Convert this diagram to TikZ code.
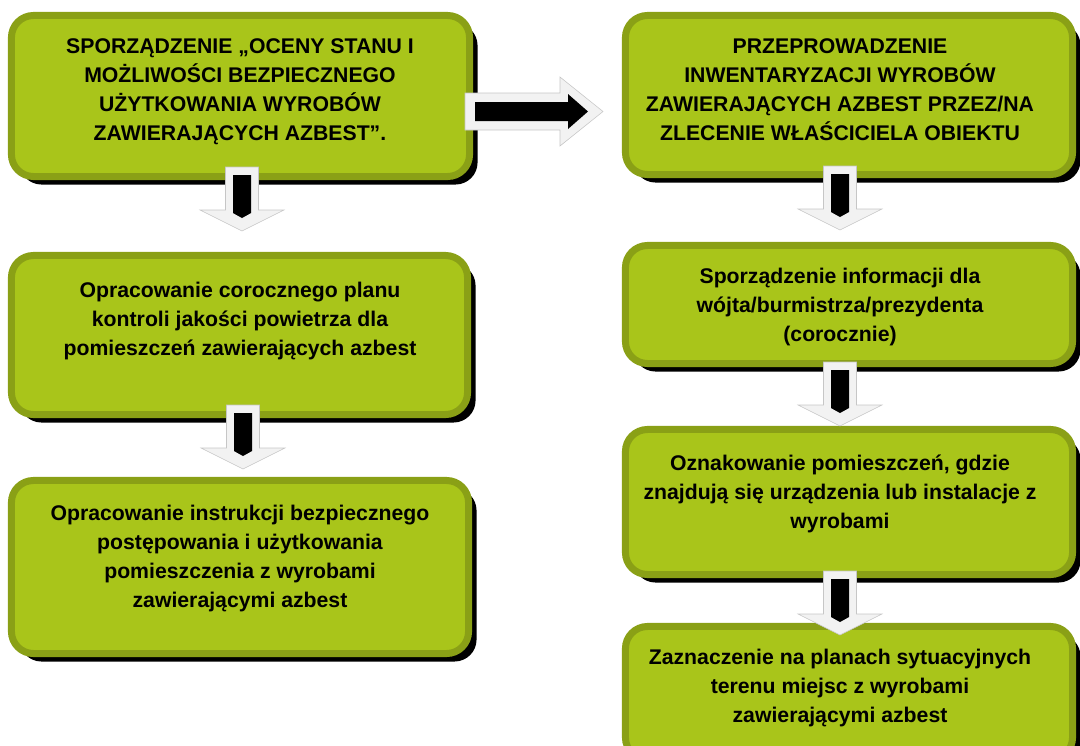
\documentclass[tikz,border=0pt]{standalone}
\usepackage{fontspec}
\setmainfont{Liberation Sans}
\usepackage{tikz}
\usetikzlibrary{shadows}

\definecolor{boxfill}{RGB}{169,197,26}
\definecolor{boxrim}{RGB}{138,160,22}
\definecolor{arrowbody}{RGB}{242,242,242}

\tikzset{
  stepbox/.style={draw=boxrim,fill=boxfill,line width=0.175cm,rounded corners=0.55cm,
    drop shadow={shadow xshift=0.2cm,shadow yshift=-0.2cm,fill=black,opacity=1}},
  boxtext/.style={anchor=north,align=center,inner sep=0pt,
    font=\bfseries\fontsize{15.1}{20.6}\selectfont},
  fatbody/.style={fill=arrowbody,draw=gray!45,line width=0.4pt}
}

% down block arrow, #1 = top centre
\newcommand{\fatdown}[1]{%
  \begin{scope}[shift={#1}]
    \draw[fatbody] (-16.5,0) -- (16.5,0) -- (16.5,43) -- (42,43) -- (0,64) -- (-42,43) -- (-16.5,43) -- cycle;
    \fill[black] (-9,8) -- (9,8) -- (9,46) -- (0,51) -- (-9,46) -- cycle;
  \end{scope}}

\begin{document}
\begin{tikzpicture}[x=0.025cm,y=-0.025cm]
  \useasboundingbox (0,0) rectangle (1080,745);

  % left column
  \node[stepbox,minimum width=11.45cm,minimum height=4.025cm] (b1) at (240.5,96) {};
  \node[boxtext] (t1) at (240,38) {SPORZĄDZENIE „OCENY STANU I\\MOŻLIWOŚCI BEZPIECZNEGO\\UŻYTKOWANIA WYROBÓW\\ZAWIERAJĄCYCH AZBEST”.};
  \node[stepbox,minimum width=11.4cm,minimum height=3.975cm] (b3) at (239.5,335) {};
  \node[boxtext] (t3) at (240,282) {Opracowanie corocznego planu\\kontroli jakości powietrza dla\\pomieszczeń zawierających azbest};
  \node[stepbox,minimum width=11.425cm,minimum height=4.325cm] (b4) at (240,567) {};
  \node[boxtext] (t4) at (240,505) {Opracowanie instrukcji bezpiecznego\\postępowania i użytkowania\\pomieszczenia z wyrobami\\zawierającymi azbest};

  % right column
  \node[stepbox,minimum width=11.175cm,minimum height=3.975cm] (b2) at (849,95) {};
  \node[boxtext] (t2) at (840,38) {PRZEPROWADZENIE\\INWENTARYZACJI WYROBÓW\\ZAWIERAJĄCYCH AZBEST PRZEZ/NA\\ZLECENIE WŁAŚCICIELA OBIEKTU};
  \node[stepbox,minimum width=11.175cm,minimum height=2.95cm] (b5) at (849,304.5) {};
  \node[boxtext] (t5) at (840,268) {Sporządzenie informacji dla\\wójta/burmistrza/prezydenta\\(corocznie)};
  \node[stepbox,minimum width=11.175cm,minimum height=3.625cm] (b6) at (849,502) {};
  \node[boxtext] (t6) at (840,455) {Oznakowanie pomieszczeń, gdzie\\znajdują się urządzenia lub instalacje z\\wyrobami};
  \node[stepbox,minimum width=11.175cm,minimum height=3.325cm] (b7) at (849,693) {};
  \node[boxtext] (t7) at (840,649) {Zaznaczenie na planach sytuacyjnych\\terenu miejsc z wyrobami\\zawierającymi azbest};

  % block arrows
  \draw[fatbody] (465,93) -- (560,93) -- (560,77) -- (603,111.5) -- (560,146) -- (560,130) -- (465,130) -- cycle;
  \fill[black] (475,102) -- (568,102) -- (568,94) -- (588,111.5) -- (568,129) -- (568,121) -- (475,121) -- cycle;
  \fatdown{(242,167)}
  \fatdown{(243,405)}
  \fatdown{(840,166)}
  \fatdown{(840,362)}
  \fatdown{(840,571)}
\end{tikzpicture}
\end{document}
